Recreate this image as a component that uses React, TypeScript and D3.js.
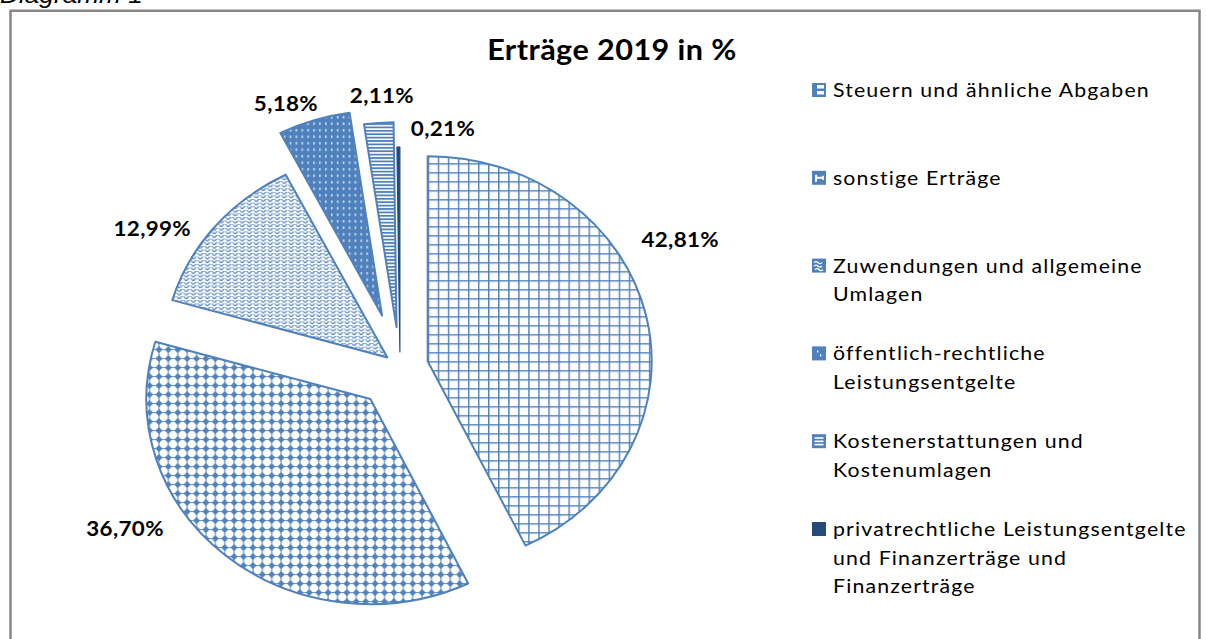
import React from 'react';
import * as d3 from 'd3';

// ---- data ----
const categories = [
  'Steuern und ähnliche Abgaben',
  'sonstige Erträge',
  'Zuwendungen und allgemeine Umlagen',
  'öffentlich-rechtliche Leistungsentgelte',
  'Kostenerstattungen und Kostenumlagen',
  'privatrechtliche Leistungsentgelte und Finanzerträge und Finanzerträge',
];
const legendLines = [
  ['Steuern und ähnliche Abgaben'],
  ['sonstige Erträge'],
  ['Zuwendungen und allgemeine', 'Umlagen'],
  ['öffentlich-rechtliche', 'Leistungsentgelte'],
  ['Kostenerstattungen und', 'Kostenumlagen'],
  ['privatrechtliche Leistungsentgelte', 'und Finanzerträge und', 'Finanzerträge'],
];
const values = [42.81, 36.7, 12.99, 5.18, 2.11, 0.21];
const title = 'Erträge 2019 in %';
const captionText = 'Diagramm 1';

// ---- layout / style ----
const W = 1206;
const H = 639;
const SX = 1.0927; // horizontal stretch of the picture
const R = 205;
const CX = 400;
const CY = 367;
const explode = [26, 42, 15, 54, 40, 15];
const labelAngle = [62.3, 240.1, 301, 337.5, 356.7, 10];
const labelRadius = [261, 259, 251, 230, 232.5, 227];
const BLUE = '#4F81BD';
const NAVY = '#254A7C';
const patternIds = ['pGrid', 'pDots', 'pWave', 'pDash', 'pHoriz', 'pSolid'];
const FONT = 'Lato, "Open Sans", sans-serif';

const fmt = (v: number) => v.toFixed(2).replace('.', ',') + '%';

function LegendMarker({ i }: { i: number }) {
  const s = 14;
  if (i === 0)
    return (
      <g>
        <rect width={s} height={s} fill={BLUE} />
        <rect x={5} y={2} width={7} height={3.5} fill="#fff" />
        <rect x={5} y={8} width={7} height={3.5} fill="#fff" />
      </g>
    );
  if (i === 1)
    return (
      <g>
        <rect width={s} height={s} fill={BLUE} />
        <rect x={3} y={4} width={2} height={7} fill="#fff" />
        <rect x={5} y={6} width={6} height={2} fill="#fff" />
        <rect x={10} y={5} width={2} height={4} fill="#fff" />
      </g>
    );
  if (i === 2)
    return (
      <g>
        <rect width={s} height={s} fill={BLUE} />
        <path d="M2,4 q2,-2 4,0 t4,0 M2,7.5 q2,-2 4,0 t4,0 M3,11 q2,-2 4,0 t4,0" stroke="#fff" strokeWidth={1.3} fill="none" />
      </g>
    );
  if (i === 3)
    return (
      <g>
        <rect width={s} height={s} fill={BLUE} />
        <rect x={5} y={4} width={1.3} height={2} fill="#fff" />
        <rect x={8} y={8} width={1.3} height={2} fill="#fff" />
      </g>
    );
  if (i === 4)
    return (
      <g>
        <rect width={s} height={s} fill={BLUE} />
        <rect x={2.5} y={3} width={9} height={1.6} fill="#fff" />
        <rect x={2.5} y={6.3} width={9} height={1.6} fill="#fff" />
        <rect x={2.5} y={9.6} width={9} height={1.6} fill="#fff" />
      </g>
    );
  return <rect width={s} height={s} fill={NAVY} />;
}

export default function App() {
  const pie = d3
    .pie<number>()
    .sort(null)
    .value((d) => d);
  const arcs = pie(values);
  const arcGen = d3.arc<d3.PieArcDatum<number>>().innerRadius(0).outerRadius(R);

  const legendX = 812;
  const legendY0 = 97;
  const legendStep = 87.8;
  const lineH = 28.5;

  return (
    <svg
      width={W}
      height={H}
      viewBox={`0 0 ${W} ${H}`}
      style={{ position: 'absolute', left: 0, top: 0, background: '#fff' }}
    >
      <defs>
        <pattern id="pGrid" patternUnits="userSpaceOnUse" width={9.2} height={9}>
          <rect width={9.2} height={9} fill="#fff" />
          <rect x={0} y={0} width={1.3} height={9} fill={BLUE} />
          <rect x={0} y={0} width={9.2} height={1.4} fill={BLUE} />
        </pattern>
        <pattern id="pDots" patternUnits="userSpaceOnUse" width={8.6} height={9}>
          <rect width={8.6} height={9} fill="#fff" />
          <rect x={0} y={4.05} width={8.6} height={0.9} fill={BLUE} />
          <rect x={3.85} y={0} width={0.9} height={9} fill={BLUE} />
          <path d="M4.3,1.0 L7.6,4.5 L4.3,8.0 L1.0,4.5 Z" fill={BLUE} />
        </pattern>
        <pattern id="pWave" patternUnits="userSpaceOnUse" width={6.4} height={3.6}>
          <rect width={6.4} height={3.6} fill="#fff" />
          <path d="M0,1 Q1.6,3.6 3.2,1 T6.4,1" stroke={BLUE} strokeWidth={1.1} fill="none" />
        </pattern>
        <pattern id="pDash" patternUnits="userSpaceOnUse" width={5.4} height={6.5}>
          <rect width={5.4} height={6.5} fill={BLUE} />
          <rect x={2} y={2} width={1.1} height={2.4} fill="#fff" />
        </pattern>
        <pattern id="pHoriz" patternUnits="userSpaceOnUse" width={6} height={3.4}>
          <rect width={6} height={3.4} fill="#fff" />
          <rect x={0} y={0} width={6} height={1.8} fill={BLUE} />
        </pattern>
      </defs>

      {/* caption above the frame (cut by the page edge, as in the source) */}
      <text
        x={0}
        y={3}
        fontFamily="Liberation Sans, Arial, sans-serif"
        fontStyle="italic"
        fontSize={24}
        transform={`translate(0,0) scale(${SX},1)`}
        fill="#000"
      >
        {captionText}
      </text>

      {/* frame */}
      <path d={`M10.5,${H + 5} V10.75 H1199.5 V${H + 5}`} fill="none" stroke="#868686" strokeWidth={2.5} />

      {/* title */}
      <text
        transform={`translate(612,60) scale(${SX},1)`}
        textAnchor="middle"
        fontFamily={FONT}
        fontWeight={700}
        fontSize={28}
        letterSpacing={0.4}
        fill="#000"
      >
        {title}
      </text>

      {/* slices */}
      {arcs.map((a, i) => {
        const mid = (a.startAngle + a.endAngle) / 2;
        const vx = CX + SX * explode[i] * Math.sin(mid);
        const vy = CY - explode[i] * Math.cos(mid);
        const isSolid = i === 5;
        return (
          <g key={categories[i]} transform={`translate(${vx},${vy}) scale(${SX},1)`}>
            <path
              d={arcGen(a) || ''}
              fill={isSolid ? NAVY : `url(#${patternIds[i]})`}
              stroke={isSolid ? NAVY : BLUE}
              strokeWidth={isSolid ? 1.2 : 2}
              strokeLinejoin="round"
              vectorEffect="non-scaling-stroke"
            />
          </g>
        );
      })}

      {/* data labels */}
      {arcs.map((a, i) => {
        const mid = (a.startAngle + a.endAngle) / 2;
        const vx = CX + SX * explode[i] * Math.sin(mid);
        const vy = CY - explode[i] * Math.cos(mid);
        const ang = (labelAngle[i] * Math.PI) / 180;
        const lx = vx + SX * labelRadius[i] * Math.sin(ang);
        const ly = vy - labelRadius[i] * Math.cos(ang);
        return (
          <text
            key={'l' + i}
            transform={`translate(${lx},${ly}) scale(${SX},1)`}
            textAnchor="middle"
            dominantBaseline="central"
            fontFamily={FONT}
            fontWeight={700}
            fontSize={20.5}
            letterSpacing={0.3}
            fill="#000"
          >
            {fmt(values[i])}
          </text>
        );
      })}

      {/* legend */}
      {legendLines.map((lines, i) => {
        const by = legendY0 + i * legendStep;
        return (
          <g key={'lg' + i}>
            <g transform={`translate(${legendX},${by - 14})`}>
              <LegendMarker i={i} />
            </g>
            {lines.map((ln, j) => (
              <text
                key={j}
                transform={`translate(${legendX + 21},${by + j * lineH}) scale(${SX},1)`}
                fontFamily={FONT}
                fontSize={19.5}
                letterSpacing={1.05}
                fill="#000"
              >
                {ln}
              </text>
            ))}
          </g>
        );
      })}
    </svg>
  );
}
